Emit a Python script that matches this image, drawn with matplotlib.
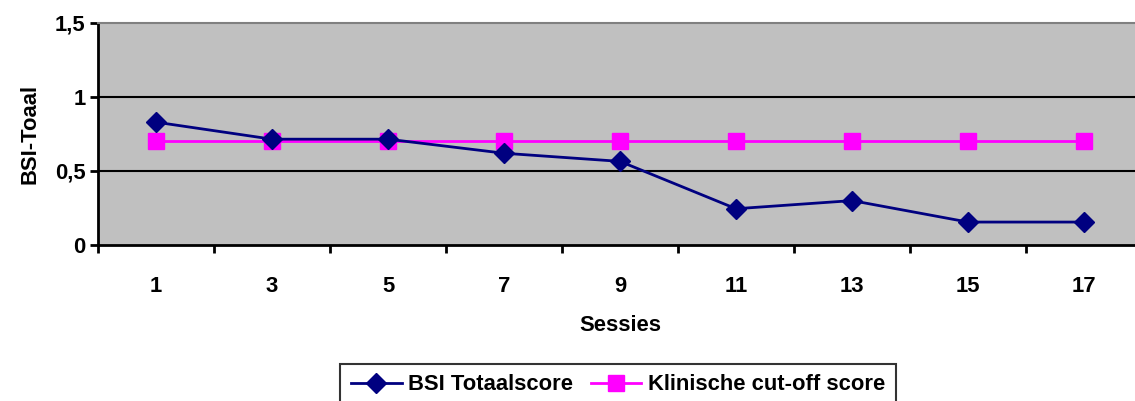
import matplotlib.pyplot as plt
from matplotlib.ticker import FixedLocator, NullFormatter

plt.rcParams["font.family"] = ["Liberation Sans", "DejaVu Sans"]
plt.rcParams["font.weight"] = "bold"

sessions = ["1", "3", "5", "7", "9", "11", "13", "15", "17"]
bsi_total = [0.83, 0.715, 0.715, 0.62, 0.565, 0.245, 0.30, 0.155, 0.155]
cutoff = [0.70] * len(sessions)

W, H = 1135, 401
FS = 15.8
fig = plt.figure(figsize=(W / 100, H / 100), dpi=100)
ax = fig.add_axes([98 / W, 1 - 245 / H, 1044 / W, 222 / H])
ax.set_facecolor("#C0C0C0")

x = list(range(len(sessions)))
ax.plot(x, bsi_total, color="#000080", lw=2, marker="D", ms=10,
        label="BSI Totaalscore", zorder=3)
ax.plot(x, cutoff, color="#FF00FF", lw=2, marker="s", ms=11,
        label="Klinische cut-off score", zorder=2)

ax.set_xlim(-0.5, len(sessions) - 0.5)
ax.set_ylim(0, 1.5)
ax.set_yticks([0, 0.5, 1, 1.5])
ax.set_yticklabels(["0", "0,5", "1", "1,5"])
ax.set_xticks(x)
ax.set_xticklabels(sessions)
ax.xaxis.set_minor_locator(FixedLocator([i + 0.5 for i in x[:-1]] + [-0.5]))
ax.xaxis.set_minor_formatter(NullFormatter())
ax.tick_params(axis="x", which="major", length=0, pad=22, labelsize=FS)
ax.tick_params(axis="x", which="minor", length=6, width=2, direction="out")
ax.tick_params(axis="y", length=6, width=2, pad=3, labelsize=FS)

for v in [0.5, 1.0]:
    ax.axhline(v, color="black", lw=1.5, zorder=1)

ax.spines["left"].set_linewidth(2)
ax.spines["bottom"].set_linewidth(2)
ax.spines["top"].set_color("#808080")
ax.spines["top"].set_linewidth(1.5)
ax.spines["right"].set_visible(False)

ax.set_xlabel("Sessies", fontsize=FS, fontweight="bold", labelpad=13)
ax.set_ylabel("BSI-Toaal", fontsize=FS, fontweight="bold", labelpad=10)

leg = fig.legend(loc="center", bbox_to_anchor=(618 / W, 1 - 385 / H), ncol=2,
                 frameon=True, fancybox=False, edgecolor="black",
                 fontsize=FS, handlelength=2.3, columnspacing=0.8,
                 handletextpad=0.3, borderpad=0.5, borderaxespad=0)
leg.get_frame().set_linewidth(1.5)

fig.savefig("out.png", dpi=100)
